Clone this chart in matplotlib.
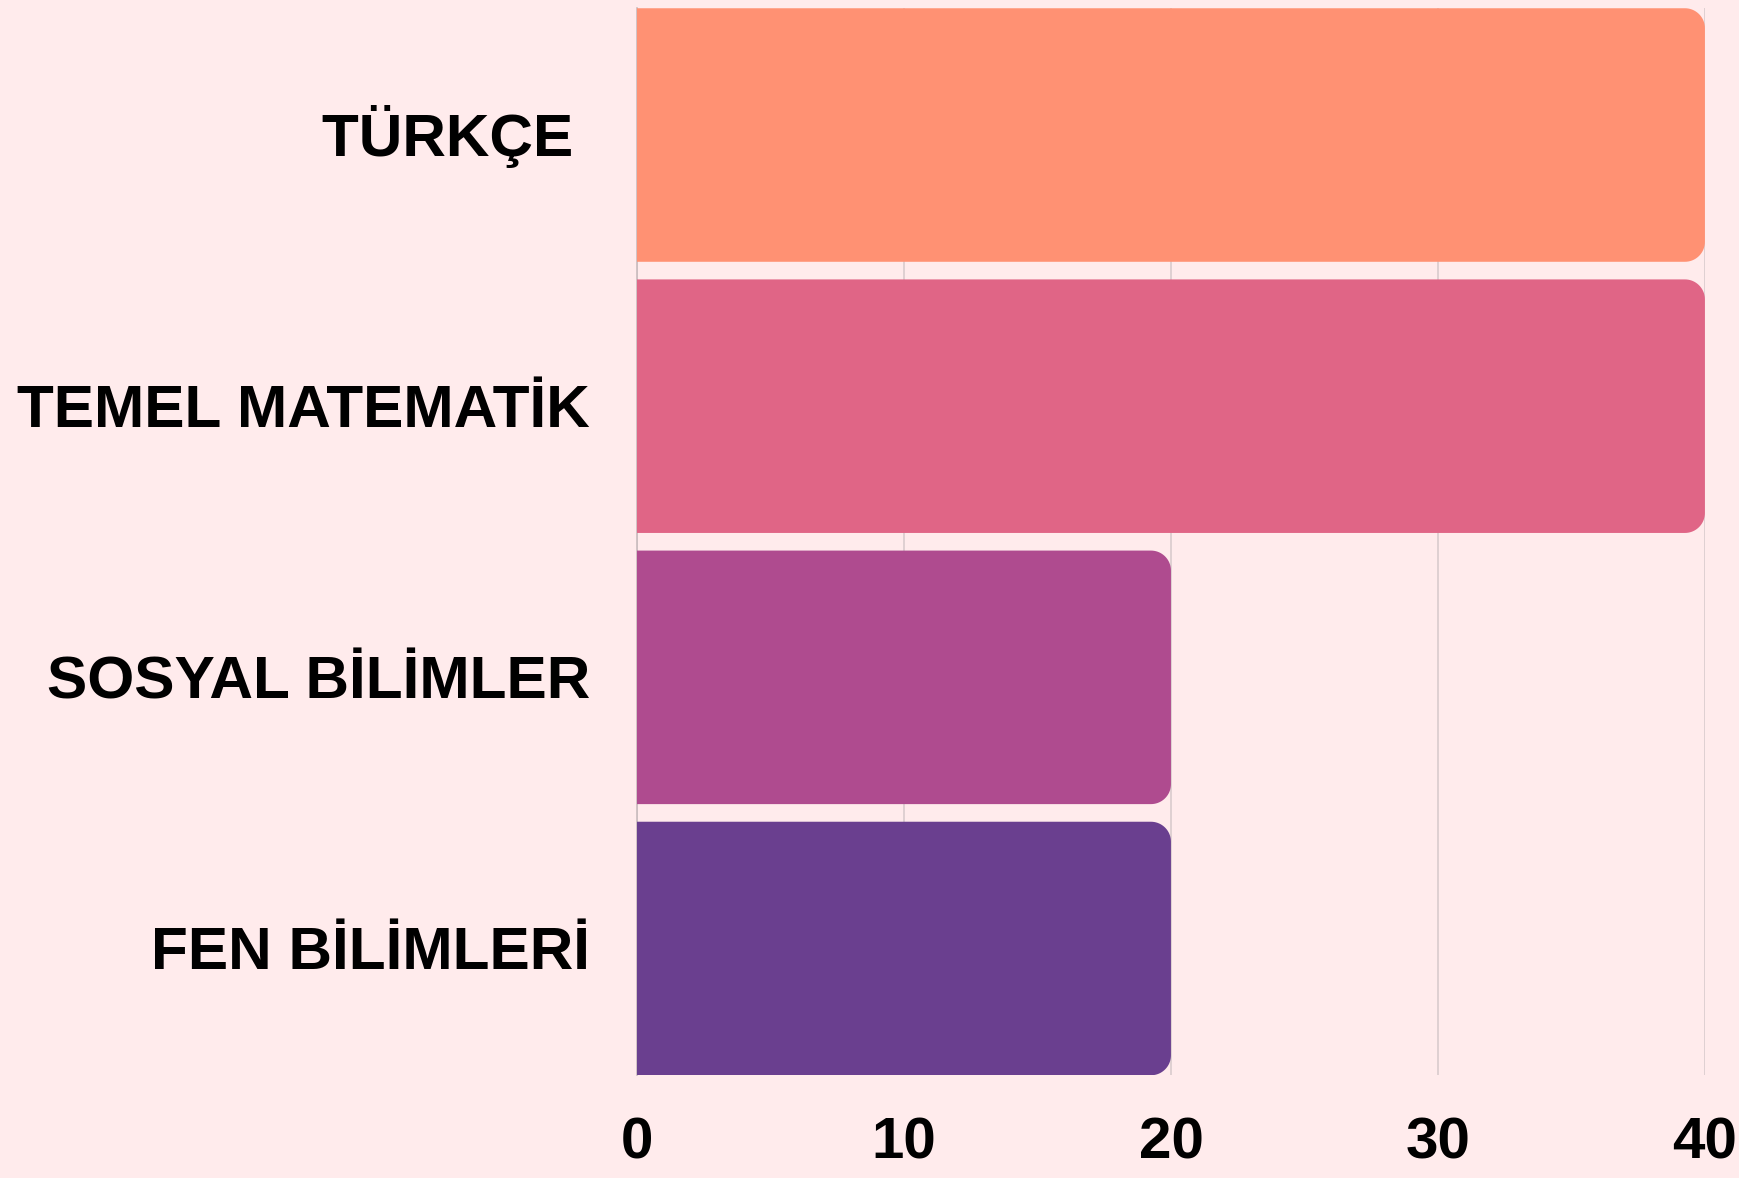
import numpy as np
import matplotlib
matplotlib.use("Agg")
import matplotlib.pyplot as plt
import matplotlib.transforms as mtransforms
from matplotlib.path import Path
from matplotlib.patches import PathPatch
from matplotlib import font_manager

subjects = ["TÜRKÇE ", "TEMEL MATEMATİK", "SOSYAL BİLİMLER", "FEN BİLİMLERİ"]
values = [40, 40, 20, 20]
colors = ["#FF9173", "#E06586", "#AF4B8F", "#6A3F8F"]
xticks = [0, 10, 20, 30, 40]

bg = "#FFEBEC"
bar_h = 0.935
radius_px = 20
label_size = 43.5

names = {f.name for f in font_manager.fontManager.ttflist}
tick_font = "Liberation Sans Narrow" if "Liberation Sans Narrow" in names else "Liberation Sans"

fig = plt.figure(figsize=(17.39, 11.78), dpi=100, facecolor=bg)
ax = fig.add_axes([0.3663, 0.0872, 0.6141, 0.9058])
ax.set_facecolor(bg)

n = len(subjects)
ax.set_xlim(0, 40)
ax.set_ylim(n - 1 + bar_h / 2, -bar_h / 2)

# pixel -> data units for the corner radius
sx = ax.transData.transform((1, 0))[0] - ax.transData.transform((0, 0))[0]
sy = abs(ax.transData.transform((0, 1))[1] - ax.transData.transform((0, 0))[1])
rx = radius_px / sx
ry = radius_px / sy

for i, (v, c) in enumerate(zip(values, colors)):
    top = i - bar_h / 2
    bot = i + bar_h / 2
    t1 = np.linspace(-np.pi / 2, 0, 20)
    t2 = np.linspace(0, np.pi / 2, 20)
    pts = [(0, top), (v - rx, top)]
    pts += [(v - rx + rx * np.cos(t), top + ry + ry * np.sin(t)) for t in t1]
    pts += [(v - rx + rx * np.cos(t), bot - ry + ry * np.sin(t)) for t in t2]
    pts += [(0, bot), (0, top)]
    ax.add_patch(PathPatch(Path(pts), facecolor=c, edgecolor="none", zorder=2))

ax.set_xticks(xticks)
ax.set_xticklabels([str(t) for t in xticks])
for lab in ax.get_xticklabels():
    lab.set_fontfamily(tick_font)
    lab.set_fontweight("bold")
    lab.set_fontsize(42)
ax.tick_params(axis="x", length=0, pad=30)
ax.set_yticks([])

# category labels: cap height centred on the bar
cap_px = 0.688 * label_size * 100 / 72
lab_tr = mtransforms.offset_copy(ax.get_yaxis_transform(), fig=fig,
                                 x=-47, y=-cap_px / 2, units="dots")
for i, name in enumerate(subjects):
    ax.text(0, i, name, transform=lab_tr, ha="right", va="baseline",
            fontfamily="Liberation Sans", fontweight="bold", fontsize=label_size)

ax.grid(axis="x", color="#D9CBCD", linewidth=1.2, zorder=0)
ax.set_axisbelow(True)
for s in ["top", "right", "bottom"]:
    ax.spines[s].set_visible(False)
ax.spines["left"].set_color("#C9BCBE")
ax.spines["left"].set_linewidth(1.2)
ax.spines["left"].set_zorder(1)

fig.savefig("out.png", dpi=100, facecolor=bg)
